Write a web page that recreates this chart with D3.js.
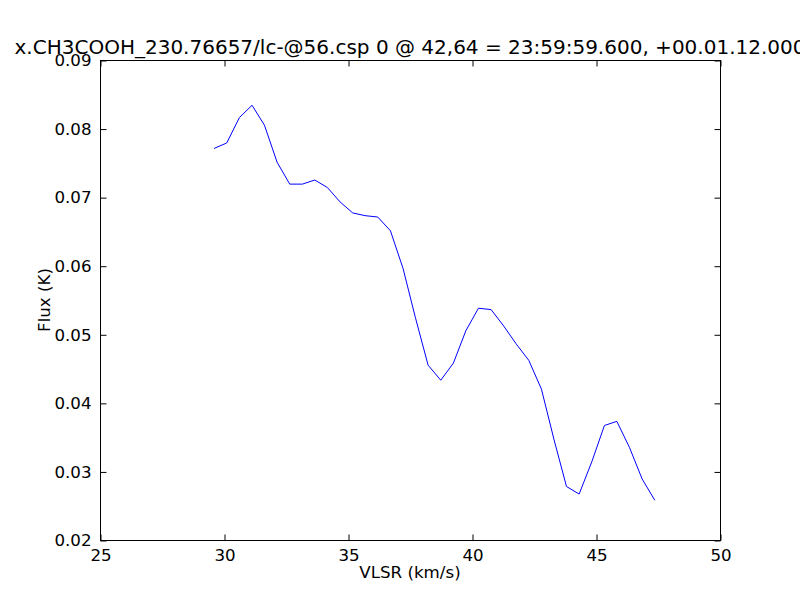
<!DOCTYPE html>
<html>
<head>
<meta charset="utf-8">
<script src="https://cdn.jsdelivr.net/npm/d3@7"></script>
<style>
  html, body { margin: 0; padding: 0; background: #fff; }
  text { font-family: "DejaVu Sans", sans-serif; }
</style>
</head>
<body>
<svg id="chart" width="800" height="600"></svg>
<script>
const titleText = "x.CH3COOH_230.76657/lc-@56.csp 0 @ 42,64 = 23:59:59.600, +00.01.12.000";
const xLabel = "VLSR (km/s)";
const yLabel = "Flux (K)";
const xTicks = [25, 30, 35, 40, 45, 50];
const yTicks = [0.02, 0.03, 0.04, 0.05, 0.06, 0.07, 0.08, 0.09];
const velocity = [29.60, 30.11, 30.62, 31.13, 31.63, 32.14, 32.65, 33.16, 33.66, 34.17,
  34.68, 35.19, 35.69, 36.20, 36.71, 37.22, 37.72, 38.23, 38.74, 39.25,
  39.75, 40.26, 40.77, 41.28, 41.78, 42.29, 42.80, 43.31, 43.81, 44.32,
  44.83, 45.34, 45.84, 46.35, 46.86, 47.37];
const flux = [0.0771, 0.0779, 0.0816, 0.0834, 0.0805, 0.0751, 0.0719, 0.0719, 0.0725, 0.0714,
  0.0693, 0.0677, 0.0673, 0.0671, 0.0651, 0.0596, 0.0524, 0.0455, 0.0433, 0.0458,
  0.0505, 0.0538, 0.0536, 0.0512, 0.0486, 0.0462, 0.0420, 0.0346, 0.0278, 0.0267,
  0.0314, 0.0367, 0.0373, 0.0335, 0.0289, 0.0258];

const svg = d3.select("#chart");
const m = {left: 100, right: 720, top: 60, bottom: 540};
const x = d3.scaleLinear().domain([25, 50]).range([m.left, m.right]);
const y = d3.scaleLinear().domain([0.02, 0.09]).range([m.bottom, m.top]);
const fs = 16.67;

// frame
svg.append("rect").attr("x", m.left + 0.5).attr("y", m.top + 0.5)
  .attr("width", m.right - m.left).attr("height", m.bottom - m.top)
  .attr("fill", "none").attr("stroke", "#000").attr("stroke-width", 1);

// data line
const line = d3.line().x((d, i) => x(velocity[i])).y(d => y(d));
svg.append("path").datum(flux).attr("d", line)
  .attr("fill", "none").attr("stroke", "#0000ff").attr("stroke-width", 1);

// axes (ticks inside)
const fmtY = d3.format(".2f");
const bottomAx = d3.axisBottom(x).tickValues(xTicks).tickSizeInner(-6).tickSizeOuter(0).tickPadding(9).tickFormat(d3.format("d"));
const topAx = d3.axisTop(x).tickValues(xTicks).tickSizeInner(-6).tickSizeOuter(0).tickFormat("");
const leftAx = d3.axisLeft(y).tickValues(yTicks).tickSizeInner(-6).tickSizeOuter(0).tickPadding(9).tickFormat(fmtY);
const rightAx = d3.axisRight(y).tickValues(yTicks).tickSizeInner(-6).tickSizeOuter(0).tickFormat("");

function style(g) {
  g.select(".domain").remove();
  g.selectAll("line").attr("stroke", "#000");
  g.selectAll("text").attr("font-family", "DejaVu Sans").attr("font-size", fs).attr("fill", "#000");
}
svg.append("g").attr("transform", `translate(0.5,${m.bottom + 0.5})`).call(bottomAx).call(style);
svg.append("g").attr("transform", `translate(0.5,${m.top + 0.5})`).call(topAx).call(style);
svg.append("g").attr("transform", `translate(${m.left + 0.5},0.5)`).call(leftAx).call(style);
svg.append("g").attr("transform", `translate(${m.right + 0.5},0.5)`).call(rightAx).call(style);

// labels
svg.append("text").attr("x", (m.left + m.right) / 2).attr("y", 578)
  .attr("text-anchor", "middle").attr("font-size", fs).text(xLabel);
svg.append("text").attr("transform", `translate(50,${(m.top + m.bottom) / 2}) rotate(-90)`)
  .attr("text-anchor", "middle").attr("font-size", fs).text(yLabel);
svg.append("text").attr("x", (m.left + m.right) / 2).attr("y", 54)
  .attr("text-anchor", "middle").attr("font-size", 20).text(titleText);
</script>
</body>
</html>
